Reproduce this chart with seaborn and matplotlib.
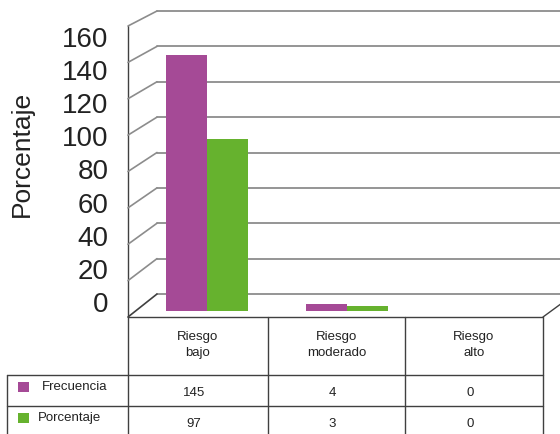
import matplotlib
matplotlib.use("Agg")
import matplotlib.pyplot as plt
import pandas as pd
import seaborn as sns
from matplotlib.patches import ConnectionPatch, Rectangle

# ---- data ----
categories = ["Riesgo\nbajo", "Riesgo\nmoderado", "Riesgo\nalto"]
series = ["Frecuencia", "Porcentaje"]
frecuencia = [145, 4, 0]
porcentaje = [97, 3, 0]
y_ticks = [0, 20, 40, 60, 80, 100, 120, 140, 160]
y_label = "Porcentaje"
colors = ["#A54A96", "#66B22E"]

sns.set_theme(style="white")
plt.rcParams["font.family"] = ["Liberation Sans", "DejaVu Sans"]

W, H = 560, 435
fig = plt.figure(figsize=(W / 100, H / 100), dpi=100)


def rect(x0, y0, x1, y1):
    return [x0 / W, 1 - y1 / H, (x1 - x0) / W, (y1 - y0) / H]


grid_color = "#8c8c8c"
line_color = "#404040"
text_color = "#222222"

# back wall with gridlines
ax_back = fig.add_axes(rect(157, 12, 560, 295))
ax_back.set_xlim(0, 1)
ax_back.set_ylim(0, 160)
for v in y_ticks:
    ax_back.axhline(v, color=grid_color, lw=1.3, clip_on=False)
ax_back.axis("off")

# front edge of the 3D box
ax_front = fig.add_axes(rect(128, 27, 129, 318))
ax_front.set_xlim(0, 1)
ax_front.set_ylim(0, 160)
ax_front.axvline(0, color=line_color, lw=1.0, clip_on=False)
ax_front.axis("off")
for v in y_ticks:
    con = ConnectionPatch(xyA=(0, v), coordsA=ax_front.transData,
                          xyB=(0, v), coordsB=ax_back.transData,
                          color=line_color if v == 0 else grid_color, lw=1.2)
    fig.add_artist(con)

# tick labels + y label
ax_lab = fig.add_axes(rect(128, 37, 560, 302))
ax_lab.patch.set_alpha(0)
ax_lab.set_ylim(0, 160)
ax_lab.set_yticks(y_ticks)
ax_lab.set_yticklabels([str(t) for t in y_ticks], fontsize=20, color=text_color)
ax_lab.set_xticks([])
ax_lab.tick_params(axis="y", length=0, pad=14)
for s in ax_lab.spines.values():
    s.set_visible(False)
ax_lab.set_ylabel(y_label, fontsize=19, color=text_color)
ax_lab.yaxis.set_label_coords(-0.219, 0.56)

# bars
ax_bar = fig.add_axes(rect(128, 29, 560, 312))
ax_bar.patch.set_alpha(0)
df = pd.DataFrame({
    "cat": categories * 2,
    "serie": [s for s in series for _ in categories],
    "value": frecuencia + porcentaje,
})
sns.barplot(data=df, x="cat", y="value", hue="serie", order=categories,
            hue_order=series, palette=colors, width=0.58, saturation=1,
            legend=False, ax=ax_bar, edgecolor="none")
ax_bar.set_xlim(-0.564, 2.521)
ax_bar.set_ylim(0, 160)
ax_bar.axis("off")

# data table
ax_tab = fig.add_axes([0, 0, 1, 1])
ax_tab.patch.set_alpha(0)
ax_tab.set_xlim(0, W)
ax_tab.set_ylim(H, 0)
ax_tab.axis("off")
col_edges = [128, 268, 405, 543]
head_top, head_bot = 318, 376
row_h = 31
row_tops = [head_bot + i * row_h for i in range(len(series) + 1)]
lab_left = 7
kw = dict(color=line_color, lw=1.0)
ax_tab.plot([col_edges[0], col_edges[-1]], [head_top, head_top], **kw)
for y in row_tops:
    ax_tab.plot([lab_left, col_edges[-1]], [y, y], **kw)
for x in col_edges:
    ax_tab.plot([x, x], [head_top, row_tops[-1]], **kw)
ax_tab.plot([lab_left, lab_left], [head_bot, row_tops[-1]], **kw)
# right floor diagonal
ax_tab.plot([col_edges[-1], col_edges[-1] + 30], [head_top, head_top - 22], **kw)

for j, cat in enumerate(categories):
    cx = (col_edges[j] + col_edges[j + 1]) / 2
    ax_tab.text(cx, (head_top + head_bot) / 2 - 2, cat, ha="center", va="center",
                fontsize=9.5, color=text_color, linespacing=1.5)
for i, (name, vals) in enumerate(zip(series, [frecuencia, porcentaje])):
    yc = row_tops[i] + row_h / 2
    ax_tab.add_patch(Rectangle((18, yc - 9), 11, 10, color=colors[i], lw=0))
    ax_tab.text(42 - 4 * i, yc - 4, name, ha="left", va="center",
                fontsize=9.5, color=text_color)
    for j, v in enumerate(vals):
        cx = (col_edges[j] + col_edges[j + 1]) / 2
        ax_tab.text(cx - 4, yc + 1.5, str(v), ha="center", va="center",
                    fontsize=9.5, color=text_color)

fig.savefig("out.png", dpi=100)
